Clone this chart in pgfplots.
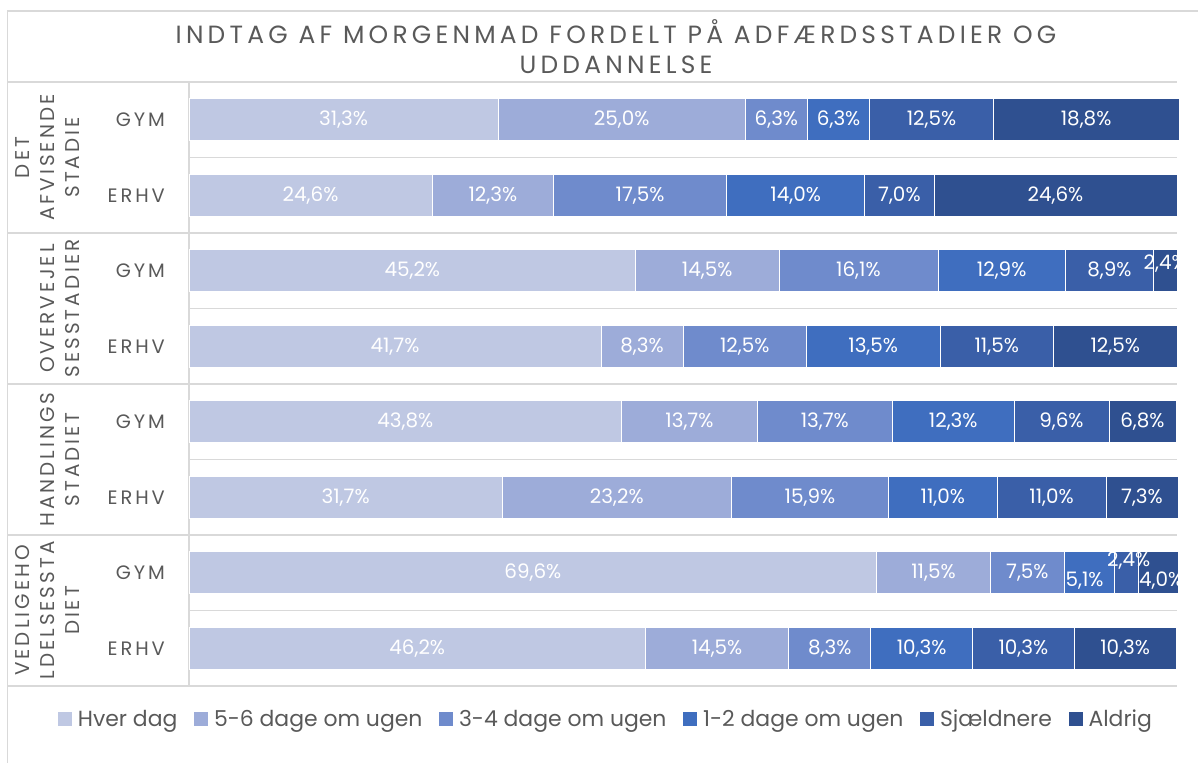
\documentclass[border=0pt]{standalone}
\usepackage{pgfplots}
\pgfplotsset{compat=1.18}
\usepackage{pgfplotstable}
\usepackage{fontspec}
\setmainfont{Poppins}
\newfontfamily\spacedfont[LetterSpace=15]{Poppins}
\newfontfamily\titlefont[LetterSpace=17]{Poppins}
\definecolor{txt}{HTML}{595959}
\definecolor{gridc}{HTML}{D9D9D9}
\definecolor{c1}{HTML}{BFC8E3}
\definecolor{c2}{HTML}{9DACD9}
\definecolor{c3}{HTML}{6F8BCC}
\definecolor{c4}{HTML}{3F6EBF}
\definecolor{c5}{HTML}{3A5FA8}
\definecolor{c6}{HTML}{2F5090}
\pgfplotstableread{
row c1 c2 c3 c4 c5 c6 s1 s2 s3 s4 s5 s6 d4 d5 d6
7 31.3 25.0 6.3 6.3 12.5 18.8 0 0 0 0 0 0 0 0 0
6 24.6 12.3 17.5 14.0 7.0 24.6 0 0 0 0 0 0 0 0 0
5 45.2 14.5 16.1 12.9 8.9 2.4 0 0 0 0 0 7 0 0 0
4 41.7 8.3 12.5 13.5 11.5 12.5 0 0 0 0 0 0 0 0 0
3 43.8 13.7 13.7 12.3 9.6 6.8 0 0 0 0 0 0 0 0 0
2 31.7 23.2 15.9 11.0 11.0 7.3 0 0 0 0 0 0 0 0 0
1 69.6 11.5 7.5 5.1 2.4 4.0 0 0 0 -8 12 -8 -5 2 3
0 46.2 14.5 8.3 10.3 10.3 10.3 0 0 0 0 0 0 0 0 0
}\data
\pgfplotsset{
  mybar/.style={fill=#1, draw=white, line width=0.6bp,
    legend image code/.code={\fill[#1] (0bp,-6.5bp) rectangle (13bp,6.5bp);}},
  commonaxis/.style={
    at={(189bp,77bp)}, anchor=south west,
    scale only axis, width=988bp, height=604bp,
    xbar stacked, bar width=0.556,
    xmin=0, ymin=-0.5, ymax=7.5,
    enlargelimits=false,
  }
}
\begin{document}
\begin{tikzpicture}
\path[use as bounding box] (0bp,0bp) rectangle (1198bp,763bp);
\draw[gridc, line width=1.5bp] (7.5bp,0bp) -- (7.5bp,752bp) -- (1198bp,752bp);
\node[font=\fontsize{25}{30}\selectfont\titlefont, text=txt, align=center, inner sep=0pt] at (616bp,716bp) {INDTAG AF MORGENMAD FORDELT PÅ ADFÆRDSSTADIER OG\\UDDANNELSE};
% group labels
\begin{scope}[every node/.style={rotate=90, anchor=south, align=center, inner sep=0pt, text=txt, font=\fontsize{20}{25}\selectfont\spacedfont}]
\node at (80bp,605.5bp) {DET\\AFVISENDE\\STADIE};
\node at (80bp,454.5bp) {OVERVEJEL\\SESSTADIER};
\node at (80bp,303.5bp) {HANDLINGS\\STADIET};
\node at (80bp,152.5bp) {VEDLIGEHO\\LDELSESSTA\\DIET};
\end{scope}
\begin{axis}[commonaxis, xmax=100, clip=false,
  axis line style={draw=none},
  xtick=\empty,
  ytick={0,...,7},
  yticklabels={ERHV,GYM,ERHV,GYM,ERHV,GYM,ERHV,GYM},
  yticklabel style={font=\fontsize{19.5}{23}\selectfont\spacedfont, text=txt, inner sep=0pt, xshift=-24bp},
  major tick length=0pt,
  legend columns=6,
  legend style={at={(axis description cs:0.4227,-0.0546)}, anchor=center, draw=none, fill=none,
    font=\fontsize{22}{26}\selectfont, text=txt,
    /tikz/every odd column/.append style={column sep=3bp},
    /tikz/every even column/.append style={column sep=14bp},
    nodes={inner sep=3bp}},
]
\addplot[mybar=c1] table[x=c1,y=row]{\data};
\addplot[mybar=c2] table[x=c2,y=row]{\data};
\addplot[mybar=c3] table[x=c3,y=row]{\data};
\addplot[mybar=c4] table[x=c4,y=row]{\data};
\addplot[mybar=c5] table[x=c5,y=row]{\data};
\addplot[mybar=c6] table[x=c6,y=row]{\data};
\legend{Hver dag,5-6 dage om ugen,3-4 dage om ugen,1-2 dage om ugen,Sjældnere,Aldrig}
\draw[gridc, line width=1.5bp] ([xshift=-181bp]axis cs:0,7.5) -- (axis cs:100,7.5);
\draw[gridc, line width=1.5bp] ([xshift=-181bp]axis cs:0,5.5) -- (axis cs:100,5.5);
\draw[gridc, line width=1.5bp] ([xshift=-181bp]axis cs:0,3.5) -- (axis cs:100,3.5);
\draw[gridc, line width=1.5bp] ([xshift=-181bp]axis cs:0,1.5) -- (axis cs:100,1.5);
\draw[gridc, line width=1.5bp] ([xshift=-181bp]axis cs:0,-0.5) -- (axis cs:100,-0.5);
\draw[gridc, line width=1.5bp] (axis cs:0,6.5) -- (axis cs:100,6.5);
\draw[gridc, line width=1.5bp] (axis cs:0,4.5) -- (axis cs:100,4.5);
\draw[gridc, line width=1.5bp] (axis cs:0,2.5) -- (axis cs:100,2.5);
\draw[gridc, line width=1.5bp] (axis cs:0,0.5) -- (axis cs:100,0.5);
\draw[gridc, line width=1.5bp] (axis cs:0,-0.5) -- (axis cs:0,7.5);
\end{axis}
\begin{axis}[commonaxis, xmax=100.25, width=990.5bp, hide axis, clip=true,
  visualization depends on={rawx \as \rawx},
  nodes near coords={\pgfmathprintnumber[fixed,fixed zerofill,precision=1,use comma,assume math mode=true]{\rawx}\%},
  every node near coord/.append style={anchor=center, xshift={\dx*1bp}, yshift={\dy*1bp}, text=white, inner sep=0pt, font=\fontsize{20}{23}\selectfont},
]
\addplot[draw=none, fill=none, visualization depends on={\thisrow{s1} \as \dy}, visualization depends on={0 \as \dx}] table[x=c1,y=row]{\data};
\addplot[draw=none, fill=none, visualization depends on={\thisrow{s2} \as \dy}, visualization depends on={0 \as \dx}] table[x=c2,y=row]{\data};
\addplot[draw=none, fill=none, visualization depends on={\thisrow{s3} \as \dy}, visualization depends on={0 \as \dx}] table[x=c3,y=row]{\data};
\addplot[draw=none, fill=none, visualization depends on={\thisrow{s4} \as \dy}, visualization depends on={\thisrow{d4} \as \dx}] table[x=c4,y=row]{\data};
\addplot[draw=none, fill=none, visualization depends on={\thisrow{s5} \as \dy}, visualization depends on={\thisrow{d5} \as \dx}] table[x=c5,y=row]{\data};
\addplot[draw=none, fill=none, visualization depends on={\thisrow{s6} \as \dy}, visualization depends on={\thisrow{d6} \as \dx}] table[x=c6,y=row]{\data};
\end{axis}
\end{tikzpicture}
\end{document}
